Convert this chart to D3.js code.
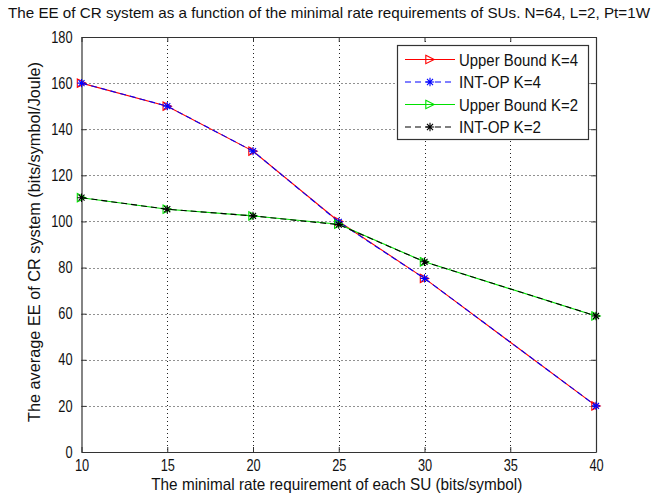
<!DOCTYPE html>
<html>
<head>
<meta charset="utf-8">
<script src="https://cdn.jsdelivr.net/npm/d3@7"></script>
<style>
html, body { margin: 0; padding: 0; background: #fff; }
svg { display: block; }
text { font-family: "Liberation Sans Narrow", "Arial Narrow", "Liberation Sans", Arial, sans-serif; fill: #111; }
</style>
</head>
<body>
<svg id="chart" width="656" height="495"></svg>
<script>
// ---- data ----
const xValues = [10, 15, 20, 25, 30, 40];
const upperBoundK4 = [160, 150, 130.5, 100, 75.3, 20];
const intOpK4 = [160, 150, 130.5, 99.8, 75.3, 20];
const upperBoundK2 = [110.3, 105.3, 102.4, 98.8, 82.5, 59];
const intOpK2 = [110.3, 105.3, 102.4, 98.6, 82.5, 59];
const xTicks = [10, 15, 20, 25, 30, 35, 40];
const yTicks = [0, 20, 40, 60, 80, 100, 120, 140, 160, 180];
const seriesNames = ["Upper Bound K=4", "INT-OP K=4", "Upper Bound K=2", "INT-OP K=2"];
const titleText = "The EE of CR system as a function of the minimal rate requirements of SUs. N=64, L=2, Pt=1W";
const xLabel = "The minimal rate requirement of each SU (bits/symbol)";
const yLabel = "The average EE of CR system (bits/symbol/Joule)";

const series = [
  { name: seriesNames[0], values: upperBoundK4, color: "#ff0000", dash: null, marker: "tri" },
  { name: seriesNames[1], values: intOpK4, color: "#0000ff", dash: "6,4", marker: "star" },
  { name: seriesNames[2], values: upperBoundK2, color: "#00e000", dash: null, marker: "tri" },
  { name: seriesNames[3], values: intOpK2, color: "#000000", dash: "6,4", marker: "star" }
];

// ---- layout ----
const L = 81.5, R = 596, T = 37, B = 452;
const svg = d3.select("#chart");
const x = d3.scaleLinear().domain([10, 40]).range([L, R]);
const y = d3.scaleLinear().domain([0, 180]).range([B, T]);
const squeeze = 0.8;
const fontSize = 16;

function condense(sel) {
  sel.each(function () {
    const len = this.getComputedTextLength();
    d3.select(this).attr("textLength", len * squeeze).attr("lengthAdjust", "spacingAndGlyphs");
  });
}

// grid
const grid = svg.append("g").attr("stroke", "#222").attr("stroke-width", 1).attr("stroke-dasharray", "1,3");
grid.selectAll(".gx").data(xTicks.slice(1, -1)).join("line")
  .attr("x1", d => Math.round(x(d)) + 0.5).attr("x2", d => Math.round(x(d)) + 0.5)
  .attr("y1", T).attr("y2", B);
grid.selectAll(".gy").data(yTicks.slice(1, -1)).join("line")
  .attr("y1", d => Math.round(y(d)) + 0.5).attr("y2", d => Math.round(y(d)) + 0.5)
  .attr("x1", L).attr("x2", R);

// axes (inward ticks, box)
const axB = d3.axisBottom(x).tickValues(xTicks).tickSizeInner(-5).tickSizeOuter(0).tickPadding(8);
const axL = d3.axisLeft(y).tickValues(yTicks).tickSizeInner(-5).tickSizeOuter(0).tickPadding(9);
const axT = d3.axisTop(x).tickValues(xTicks).tickSizeInner(-5).tickSizeOuter(0).tickFormat("");
const axR = d3.axisRight(y).tickValues(yTicks).tickSizeInner(-5).tickSizeOuter(0).tickFormat("");

function styleAxis(g) {
  g.attr("font-family", null).attr("font-size", null);
  g.select(".domain").attr("stroke", "#333").attr("stroke-width", 1.2);
  g.selectAll(".tick line").attr("stroke", "#333");
  g.selectAll(".tick text").attr("font-size", fontSize).attr("fill", "#111").call(condense);
}
svg.append("g").attr("transform", `translate(0,${B})`).call(axB).call(styleAxis);
svg.append("g").attr("transform", `translate(${L},0)`).call(axL).call(styleAxis);
svg.append("g").attr("transform", `translate(0,${T})`).call(axT).call(styleAxis);
svg.append("g").attr("transform", `translate(${R},0)`).call(axR).call(styleAxis);

// markers
function markerPath(type, s) {
  if (type === "tri") {
    return `M${-s},${-s}L${s},0L${-s},${s}Z`;
  }
  const d = s * 0.72;
  return `M${-s},0L${s},0M0,${-s}L0,${s}M${-d},${-d}L${d},${d}M${-d},${d}L${d},${-d}`;
}

const lineGen = d3.line().x(d => x(d[0])).y(d => y(d[1]));
series.forEach(s => {
  const pts = xValues.map((v, i) => [v, s.values[i]]);
  const g = svg.append("g");
  g.append("path").datum(pts).attr("d", lineGen)
    .attr("fill", "none").attr("stroke", s.color).attr("stroke-width", 1.1)
    .attr("stroke-dasharray", s.dash);
  g.selectAll("path.m").data(pts).join("path").attr("class", "m")
    .attr("transform", d => `translate(${x(d[0])},${y(d[1])})`)
    .attr("d", markerPath(s.marker, 4.2))
    .attr("fill", "none").attr("stroke", s.color).attr("stroke-width", 1.1);
});

// legend
const lg = svg.append("g");
const lx0 = 397, ly0 = 45, lx1 = 588, ly1 = 139;
lg.append("rect").attr("x", lx0 + 0.5).attr("y", ly0 + 0.5).attr("width", lx1 - lx0).attr("height", ly1 - ly0)
  .attr("fill", "#fff").attr("stroke", "#333").attr("stroke-width", 1.2);
const rowY = [59.5, 82, 104.5, 127];
const legendWidths = [119, 82, 119, 82];
series.forEach((s, i) => {
  const yy = rowY[i];
  lg.append("line").attr("x1", 405).attr("x2", 455).attr("y1", yy).attr("y2", yy)
    .attr("stroke", s.color).attr("stroke-width", 1.1).attr("stroke-dasharray", s.dash);
  lg.append("path").attr("transform", `translate(430,${yy})`).attr("d", markerPath(s.marker, 4.2))
    .attr("fill", "none").attr("stroke", s.color).attr("stroke-width", 1.1);
  lg.append("text").attr("x", 459).attr("y", yy + 6).attr("font-size", 17)
    .attr("textLength", legendWidths[i]).attr("lengthAdjust", "spacingAndGlyphs").text(s.name);
});

// title and labels
svg.append("text").attr("x", 8).attr("y", 18).attr("font-size", 14.5)
  .attr("textLength", 642).attr("lengthAdjust", "spacingAndGlyphs").text(titleText);
svg.append("text").attr("x", (L + R) / 2 - 2).attr("y", 490).attr("text-anchor", "middle")
  .attr("font-size", 16.5).attr("textLength", 371).attr("lengthAdjust", "spacingAndGlyphs").text(xLabel);
svg.append("text").attr("transform", `translate(40,242) rotate(-90)`).attr("text-anchor", "middle")
  .attr("font-size", 16.5).attr("textLength", 360).attr("lengthAdjust", "spacingAndGlyphs").text(yLabel);
</script>
</body>
</html>
